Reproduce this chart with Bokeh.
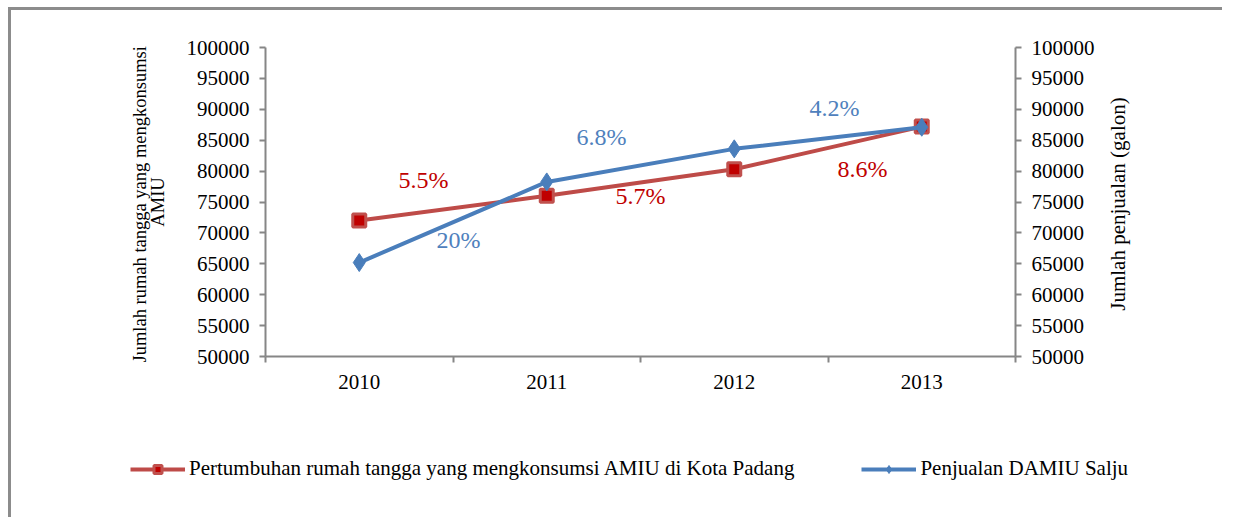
import math
from bokeh.plotting import figure
from bokeh.models import (Range1d, LinearAxis, FixedTicker, Legend, LegendItem,
                          CustomJSTickFormatter, Label, Div)
from bokeh.embed import file_html
from bokeh.resources import INLINE
import numpy as np

years = ["2010", "2011", "2012", "2013"]
households = [72000, 76000, 80300, 87200]
sales = [65200, 78250, 83600, 87100]
y_ticks = [50000, 55000, 60000, 65000, 70000, 75000, 80000, 85000, 90000, 95000, 100000]

red_labels = ["5.5%", "5.7%", "8.6%"]
blue_labels = ["20%", "6.8%", "4.2%"]
red_label_pos = [(0.843, 78640), (2.0, 75890), (3.184, 80260)]
blue_label_pos = [(1.029, 68930), (1.792, 85440), (3.035, 90290)]

FONT = "Liberation Serif"
AX = "#868686"
RED_LINE = "#BE4B48"
RED_FILL = "#C00000"
BLUE = "#4A7EBB"
BLUE_TXT = "#4F81BD"
W = 1214
H = 400

x = np.arange(len(years)) + 0.5

p = figure(width=W, height=H, output_backend="svg", toolbar_location=None,
           x_range=Range1d(0, 4), y_range=Range1d(50000, 100000),
           min_border_left=254, min_border_right=210, min_border_top=37,
           min_border_bottom=54, y_axis_location=None, x_axis_location=None)
p.styles = {"border-left": "3px solid #8c8c8c", "border-top": "3px solid #8c8c8c",
            "margin-left": "8px", "margin-top": "7px"}
p.outline_line_color = None
p.xgrid.visible = False
p.ygrid.visible = False


def style_axis(ax):
    ax.axis_line_color = AX
    ax.axis_line_width = 2
    ax.major_tick_line_color = AX
    ax.major_tick_line_width = 2
    ax.minor_tick_line_color = AX
    ax.minor_tick_line_width = 2
    ax.major_label_text_font = FONT
    ax.major_label_text_font_size = "21px"
    ax.major_label_text_color = "black"
    ax.axis_label_text_font = FONT
    ax.axis_label_text_font_size = "21px"
    ax.axis_label_text_font_style = "normal"
    ax.axis_label_text_color = "black"


fmt = CustomJSTickFormatter(code="return tick.toFixed(0);")

left = LinearAxis(ticker=FixedTicker(ticks=y_ticks), formatter=fmt,
                  axis_label="Jumlah rumah tangga yang  mengkonsumsi\nAMIU")
style_axis(left)
left.axis_label_text_font_size = "18.5px"
left.axis_label_text_line_height = 0.9
left.major_tick_out = 6
left.major_tick_in = 0
left.minor_tick_out = 0
left.major_label_standoff = 10
left.axis_label_standoff = 16
p.add_layout(left, "left")

right = LinearAxis(ticker=FixedTicker(ticks=y_ticks), formatter=fmt)
style_axis(right)
right.major_tick_out = 6
right.major_tick_in = 0
right.minor_tick_out = 0
right.major_label_standoff = 10
p.add_layout(right, "right")

bottom = LinearAxis(ticker=FixedTicker(ticks=list(x), minor_ticks=[0, 1, 2, 3, 4]))
style_axis(bottom)
bottom.major_tick_out = 0
bottom.major_tick_in = 0
bottom.minor_tick_out = 6
bottom.minor_tick_in = 0
bottom.major_label_standoff = 12
bottom.formatter = CustomJSTickFormatter(args=dict(years=years),
                                         code="return years[Math.floor(tick)];")
p.add_layout(bottom, "below")

RED_LINE_KW = dict(line_color=RED_LINE, line_width=4)
RED_PT_KW = dict(marker="square", size=13, fill_color=RED_FILL, line_color="#C0504D", line_width=3)
BLUE_LINE_KW = dict(line_color=BLUE, line_width=4)
BLUE_PT_KW = dict(marker="diamond", size=18, fill_color=BLUE, line_color=BLUE, line_width=1)

p.line(x, households, **RED_LINE_KW)
p.scatter(x, households, **RED_PT_KW)
p.line(x, sales, **BLUE_LINE_KW)
p.scatter(x, sales, **BLUE_PT_KW)

for txt, (lx, ly) in zip(red_labels, red_label_pos):
    p.add_layout(Label(x=lx, y=ly, text=txt, text_color=RED_FILL, text_font=FONT,
                       text_font_size="24px", text_align="center", text_baseline="middle"))
for txt, (lx, ly) in zip(blue_labels, blue_label_pos):
    p.add_layout(Label(x=lx, y=ly, text=txt, text_color=BLUE_TXT, text_font=FONT,
                       text_font_size="24px", text_align="center", text_baseline="middle"))

# legend figure (separate root so it is not aligned to the chart frame)
lf = figure(width=W, height=110, output_backend="svg", toolbar_location=None,
            x_range=Range1d(0, 1), y_range=Range1d(0, 1),
            min_border_left=0, min_border_right=0, min_border_top=0, min_border_bottom=0,
            x_axis_location=None, y_axis_location=None)
lf.styles = {"border-left": "3px solid #8c8c8c", "margin-left": "8px"}
lf.outline_line_color = None
lf.xgrid.visible = False
lf.ygrid.visible = False
lr1 = lf.line([-5, -4], [-5, -5], **RED_LINE_KW)
lr2 = lf.scatter([-5], [-5], **RED_PT_KW)
lb1 = lf.line([-5, -4], [-5, -5], **BLUE_LINE_KW)
lb2 = lf.scatter([-5], [-5], **BLUE_PT_KW)

legend = Legend(items=[
    LegendItem(label="Pertumbuhan rumah tangga yang mengkonsumsi AMIU di Kota Padang",
               renderers=[lr1, lr2]),
    LegendItem(label="Penjualan DAMIU Salju", renderers=[lb1, lb2]),
], orientation="horizontal", location=(119, 36))
legend.label_text_font = FONT
legend.label_text_font_size = "21px"
legend.label_text_color = "black"
legend.glyph_width = 55
legend.glyph_height = 20
legend.label_standoff = 4
legend.spacing = 67
legend.padding = 0
legend.margin = 0
legend.border_line_color = None
legend.background_fill_alpha = 0
lf.add_layout(legend, "center")

# right axis title, rotated to read bottom-to-top
rtitle = Div(text="Jumlah penjualan (galon)", width=240, height=26,
             styles={"position": "absolute", "left": "993px", "top": "186px",
                     "transform": "rotate(-90deg)", "font-family": FONT,
                     "font-size": "21px", "color": "black", "text-align": "center",
                     "line-height": "26px", "white-space": "nowrap"})

open("out.html", "w").write(file_html([p, lf, rtitle], INLINE))
